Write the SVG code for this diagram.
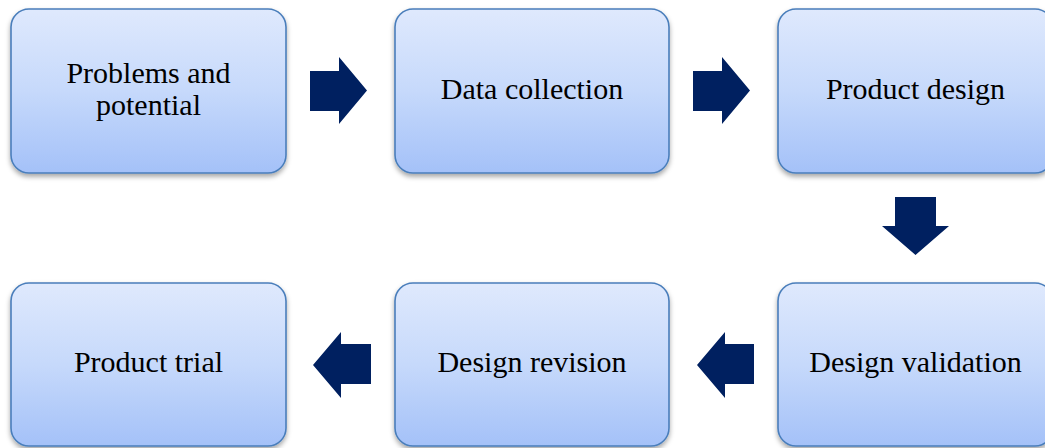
<svg xmlns="http://www.w3.org/2000/svg" width="1045" height="448" viewBox="0 0 1045 448">
  <defs>
    <linearGradient id="boxGrad" x1="0" y1="0" x2="0" y2="1">
      <stop offset="0" stop-color="#dfe9fd"/>
      <stop offset="0.5" stop-color="#c6d9fb"/>
      <stop offset="1" stop-color="#a4c1f8"/>
    </linearGradient>
    <filter id="shadow" x="-10%" y="-10%" width="120%" height="130%">
      <feDropShadow dx="0" dy="3" stdDeviation="2.5" flood-color="#000" flood-opacity="0.35"/>
    </filter>
  </defs>
  <style>
    .box { fill: url(#boxGrad); stroke: #4a7ebb; stroke-width: 1.6; filter: url(#shadow); }
    .label { font-family: "Liberation Serif", "Times New Roman", serif; font-size: 30px; fill: #000; text-anchor: middle; }
    .arrow { fill: #002060; }
  </style>
  <rect width="1045" height="448" fill="#ffffff"/>

  <g id="node-problems">
    <rect class="box" x="11" y="9" width="275" height="164" rx="18" ry="18"/>
    <text class="label" x="148.5" y="83">Problems and</text>
    <text class="label" x="148.5" y="115">potential</text>
  </g>
  <g id="node-data">
    <rect class="box" x="395" y="9" width="274" height="164" rx="18" ry="18"/>
    <text class="label" x="532" y="99">Data collection</text>
  </g>
  <g id="node-product-design">
    <rect class="box" x="778" y="9" width="275" height="164" rx="18" ry="18"/>
    <text class="label" x="915.5" y="99">Product design</text>
  </g>
  <g id="node-validation">
    <rect class="box" x="778" y="283" width="275" height="163" rx="18" ry="18"/>
    <text class="label" x="915.5" y="372">Design validation</text>
  </g>
  <g id="node-revision">
    <rect class="box" x="395" y="283" width="274" height="163" rx="18" ry="18"/>
    <text class="label" x="532" y="372">Design revision</text>
  </g>
  <g id="node-trial">
    <rect class="box" x="11" y="283" width="275" height="163" rx="18" ry="18"/>
    <text class="label" x="148.5" y="372">Product trial</text>
  </g>

  <g id="connectors">
    <polygon class="arrow" points="310,71 339,71 339,57 367,90.5 339,124 339,111 310,111"/>
    <polygon class="arrow" points="693,71 722,71 722,57 750,90.5 722,124 722,111 693,111"/>
    <polygon class="arrow" points="895,197 936,197 936,226 949,226 915.5,255 882,226 895,226"/>
    <polygon class="arrow" points="754,344 725,344 725,332 697,365 725,398 725,384 754,384"/>
    <polygon class="arrow" points="371,344 341,344 341,332 313,365 341,398 341,384 371,384"/>
  </g>
</svg>
